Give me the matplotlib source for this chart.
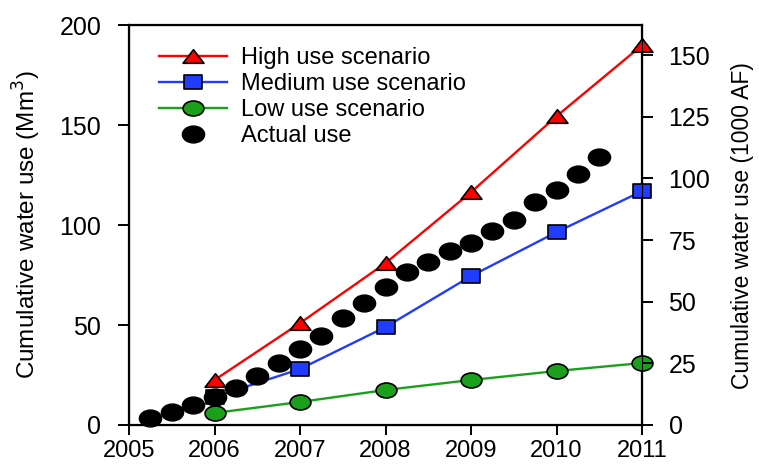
import matplotlib.pyplot as plt
import numpy as np
from matplotlib.path import Path
from matplotlib.transforms import Affine2D

plt.rcParams['font.family'] = ['Liberation Sans', 'DejaVu Sans']

# scenario values (Mm3) at yearly points
years = [2006, 2007, 2008, 2009, 2010, 2011]
high = [22.5, 51, 81, 116.5, 154.5, 190]
medium = [14, 28, 49, 74.5, 96.5, 117]
low = [6, 11.5, 17.5, 22.5, 27, 31]

# actual cumulative use, quarterly
actual_t = [2005.25, 2005.5, 2005.75, 2006.0, 2006.25, 2006.5, 2006.75, 2007.0,
            2007.25, 2007.5, 2007.75, 2008.0, 2008.25, 2008.5, 2008.75, 2009.0,
            2009.25, 2009.5, 2009.75, 2010.0, 2010.25, 2010.5]
actual = [3.3, 6.7, 10, 13.8, 18.3, 24.5, 31.2, 37.8, 44.5, 53.3, 60.8, 69.2,
          76.7, 81.7, 87, 90.8, 97, 102.5, 111.7, 117.5, 125.8, 134.3]

xticks = [2005, 2006, 2007, 2008, 2009, 2010, 2011]
mm3_to_kaf = 0.8107

# the original picture is a bit stretched sideways, so use flattened markers
ellipse = Path.unit_circle().transformed(Affine2D().scale(1, 0.72))
ellipse_dot = Path.unit_circle().transformed(Affine2D().scale(1, 0.76))
tri = Path([(0, 0.65), (-1, -0.65), (1, -0.65), (0, 0.65)],
           [Path.MOVETO, Path.LINETO, Path.LINETO, Path.CLOSEPOLY])
rect = Path([(-1, -0.78), (1, -0.78), (1, 0.78), (-1, 0.78), (-1, -0.78)],
            [Path.MOVETO, Path.LINETO, Path.LINETO, Path.LINETO, Path.CLOSEPOLY])

fig = plt.figure(figsize=(7.59, 4.67), dpi=100)
ax = fig.add_axes([0.170, 0.090, 0.676, 0.856])

ax.plot(years, high, color='red', marker=tri, markersize=15, markerfacecolor='red',
        markeredgecolor='black', markeredgewidth=1.2, lw=1.7, clip_on=False, zorder=3,
        label='High use scenario')
ax.plot(years, medium, color='#1f3cff', marker=rect, markersize=12.5, markerfacecolor='#1f3cff',
        markeredgecolor='black', markeredgewidth=1.2, lw=1.7, clip_on=False, zorder=3,
        label='Medium use scenario')
ax.plot(years, low, color='#1aa01a', marker=ellipse, markersize=15, markerfacecolor='#1aa01a',
        markeredgecolor='black', markeredgewidth=1.2, lw=1.7, clip_on=False, zorder=3,
        label='Low use scenario')
ax.plot(actual_t, actual, linestyle='none', marker=ellipse_dot, color='black',
        markersize=16, clip_on=False, zorder=4, label='Actual use')

ax.set_xlim(2005, 2011)
ax.set_ylim(0, 200)
ax.set_xticks(xticks)
ax.set_yticks([0, 50, 100, 150, 200])
ax.tick_params(axis='y', direction='out', length=8, width=1.4, labelsize=18, pad=12)
ax.tick_params(axis='x', direction='out', length=7, width=1.4, labelsize=17, pad=4)
for s in ax.spines.values():
    s.set_linewidth(1.6)
ax.set_ylabel('Cumulative water use (Mm$^3$)', fontsize=17.5, labelpad=12)

ax2 = ax.twinx()
ax2.set_ylim(0, 200 * mm3_to_kaf)
ax2.set_yticks([0, 25, 50, 75, 100, 125, 150])
ax2.tick_params(direction='out', length=8, width=1.4, labelsize=18, pad=11)
ax2.set_ylabel('Cumulative water use (1000 AF)', fontsize=16.5, labelpad=15)

ax.legend(loc='upper left', frameon=False, fontsize=17, handlelength=2.9,
          handletextpad=0.6, borderaxespad=0.2, labelspacing=0.17,
          bbox_to_anchor=(0.03, 0.98))

fig.savefig('out.png', dpi=100)
